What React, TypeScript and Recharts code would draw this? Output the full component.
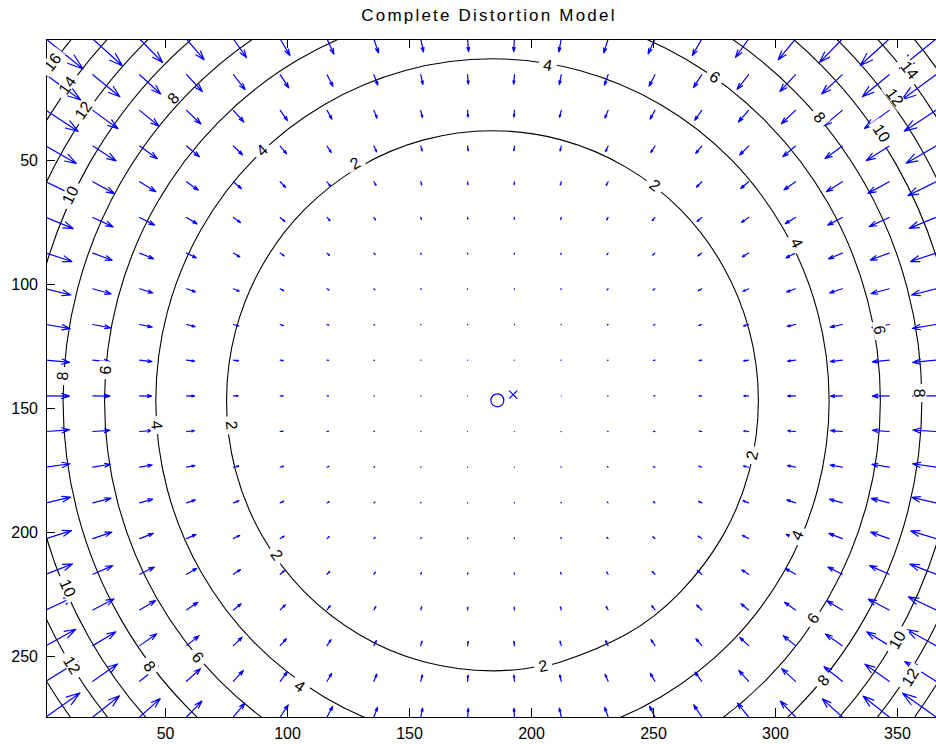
import React from 'react';
import { ComposedChart, Line, Scatter, XAxis, YAxis } from 'recharts';

const FONT = '"Liberation Sans", Arial, Helvetica, sans-serif';

// Axis extents (image pixel coordinates, y grows downward)
const xRange: [number, number] = [1, 365.8];
const yRange: [number, number] = [1, 274.6];
const xTicks = [50, 100, 150, 200, 250, 300, 350];
const yTicks = [50, 100, 150, 200, 250];

// Sampling grid of the displacement field
const gridX = [1, 20.2, 39.4, 58.6, 77.8, 97, 116.2, 135.4, 154.6, 173.8, 193, 212.2, 231.4, 250.6, 269.8, 289, 308.2, 327.4, 346.6, 365.8];
const gridY = [1, 15.4, 29.8, 44.2, 58.6, 73, 87.4, 101.8, 116.2, 130.6, 145, 159.4, 173.8, 188.2, 202.6, 217, 231.4, 245.8, 260.2, 274.6];

// Arrow components (scaled displacement) per grid row
const arrowU = [
  [15.2, 12.1, 9.4, 7.2, 5.4, 4.0, 2.8, 1.9, 1.1, 0.4, -0.3, -1.0, -1.8, -2.8, -3.9, -5.4, -7.1, -9.3, -11.9, -15.0],
  [14.2, 11.1, 8.6, 6.5, 4.8, 3.5, 2.4, 1.6, 0.9, 0.3, -0.3, -0.8, -1.5, -2.4, -3.4, -4.7, -6.4, -8.5, -11.0, -14.0],
  [13.2, 10.3, 7.9, 5.9, 4.3, 3.0, 2.0, 1.3, 0.7, 0.2, -0.2, -0.7, -1.3, -2.0, -2.9, -4.2, -5.8, -7.7, -10.1, -13.0],
  [12.4, 9.5, 7.2, 5.3, 3.8, 2.6, 1.7, 1.1, 0.6, 0.2, -0.2, -0.5, -1.0, -1.7, -2.5, -3.7, -5.2, -7.1, -9.4, -12.2],
  [11.7, 8.9, 6.6, 4.8, 3.3, 2.2, 1.4, 0.9, 0.4, 0.1, -0.1, -0.4, -0.8, -1.4, -2.2, -3.2, -4.7, -6.5, -8.7, -11.5],
  [11.1, 8.3, 6.1, 4.3, 2.9, 1.9, 1.2, 0.7, 0.3, 0.1, -0.1, -0.3, -0.6, -1.1, -1.9, -2.9, -4.2, -6.0, -8.2, -10.9],
  [10.6, 7.9, 5.7, 4.0, 2.6, 1.6, 1.0, 0.5, 0.2, 0.1, -0.1, -0.2, -0.5, -0.9, -1.6, -2.6, -3.9, -5.6, -7.7, -10.4],
  [10.2, 7.5, 5.4, 3.7, 2.4, 1.4, 0.8, 0.4, 0.2, 0.0, 0.0, -0.2, -0.4, -0.8, -1.4, -2.3, -3.6, -5.2, -7.4, -10.0],
  [9.9, 7.3, 5.1, 3.5, 2.2, 1.3, 0.7, 0.3, 0.1, 0.0, 0.0, -0.1, -0.3, -0.6, -1.2, -2.1, -3.4, -5.0, -7.1, -9.7],
  [9.7, 7.1, 5.0, 3.3, 2.1, 1.2, 0.6, 0.2, 0.1, 0.0, 0.0, -0.1, -0.2, -0.6, -1.1, -2.0, -3.2, -4.9, -6.9, -9.5],
  [9.6, 7.0, 4.9, 3.3, 2.0, 1.2, 0.6, 0.2, 0.1, 0.0, 0.0, 0.0, -0.2, -0.5, -1.1, -2.0, -3.2, -4.8, -6.9, -9.5],
  [9.7, 7.1, 5.0, 3.3, 2.1, 1.2, 0.6, 0.2, 0.1, 0.0, 0.0, -0.1, -0.2, -0.6, -1.1, -2.0, -3.2, -4.8, -6.9, -9.5],
  [9.8, 7.2, 5.1, 3.4, 2.2, 1.3, 0.7, 0.3, 0.1, 0.0, 0.0, -0.1, -0.3, -0.6, -1.2, -2.1, -3.3, -5.0, -7.1, -9.6],
  [10.1, 7.4, 5.3, 3.6, 2.3, 1.4, 0.8, 0.4, 0.1, 0.0, 0.0, -0.1, -0.3, -0.7, -1.3, -2.3, -3.5, -5.2, -7.3, -9.9],
  [10.4, 7.8, 5.6, 3.9, 2.6, 1.6, 0.9, 0.5, 0.2, 0.1, -0.1, -0.2, -0.5, -0.9, -1.5, -2.5, -3.8, -5.5, -7.6, -10.3],
  [10.9, 8.2, 6.0, 4.2, 2.9, 1.8, 1.1, 0.6, 0.3, 0.1, -0.1, -0.3, -0.6, -1.1, -1.8, -2.8, -4.1, -5.9, -8.0, -10.7],
  [11.5, 8.7, 6.5, 4.6, 3.2, 2.1, 1.3, 0.8, 0.4, 0.1, -0.1, -0.4, -0.8, -1.3, -2.1, -3.1, -4.5, -6.3, -8.6, -11.3],
  [12.2, 9.4, 7.0, 5.1, 3.6, 2.5, 1.6, 1.0, 0.5, 0.2, -0.2, -0.5, -1.0, -1.6, -2.4, -3.6, -5.0, -6.9, -9.2, -12.0],
  [13.0, 10.1, 7.6, 5.7, 4.1, 2.9, 1.9, 1.2, 0.7, 0.2, -0.2, -0.6, -1.2, -1.9, -2.8, -4.0, -5.6, -7.5, -9.9, -12.8],
  [13.9, 10.9, 8.4, 6.3, 4.7, 3.3, 2.3, 1.5, 0.8, 0.3, -0.2, -0.8, -1.4, -2.2, -3.3, -4.6, -6.2, -8.2, -10.7, -13.7],
];
const arrowV = [
  [12.1, 10.8, 9.5, 8.4, 7.5, 6.7, 6.1, 5.6, 5.2, 5.1, 5.1, 5.2, 5.6, 6.0, 6.7, 7.4, 8.4, 9.4, 10.7, 12.0],
  [10.2, 8.9, 7.8, 6.8, 6.0, 5.3, 4.7, 4.2, 3.9, 3.8, 3.8, 3.9, 4.2, 4.6, 5.2, 5.9, 6.8, 7.8, 8.9, 10.1],
  [8.5, 7.4, 6.4, 5.5, 4.7, 4.1, 3.5, 3.1, 2.9, 2.7, 2.7, 2.8, 3.1, 3.5, 4.0, 4.7, 5.4, 6.3, 7.3, 8.4],
  [7.0, 6.0, 5.1, 4.3, 3.6, 3.1, 2.6, 2.3, 2.0, 1.9, 1.9, 2.0, 2.2, 2.6, 3.0, 3.6, 4.3, 5.1, 5.9, 6.9],
  [5.6, 4.8, 4.0, 3.4, 2.8, 2.3, 1.9, 1.5, 1.3, 1.2, 1.2, 1.3, 1.5, 1.8, 2.2, 2.7, 3.3, 4.0, 4.7, 5.6],
  [4.5, 3.8, 3.1, 2.6, 2.1, 1.6, 1.3, 1.0, 0.8, 0.7, 0.7, 0.8, 1.0, 1.3, 1.6, 2.0, 2.5, 3.1, 3.7, 4.4],
  [3.4, 2.9, 2.3, 1.9, 1.5, 1.1, 0.9, 0.6, 0.5, 0.4, 0.4, 0.5, 0.6, 0.8, 1.1, 1.5, 1.9, 2.3, 2.8, 3.4],
  [2.5, 2.1, 1.7, 1.3, 1.0, 0.8, 0.5, 0.4, 0.2, 0.2, 0.2, 0.2, 0.4, 0.5, 0.7, 1.0, 1.3, 1.7, 2.0, 2.5],
  [1.7, 1.4, 1.1, 0.9, 0.6, 0.5, 0.3, 0.2, 0.1, 0.1, 0.1, 0.1, 0.2, 0.3, 0.4, 0.6, 0.8, 1.1, 1.3, 1.6],
  [0.9, 0.7, 0.6, 0.4, 0.3, 0.2, 0.1, 0.1, 0.0, 0.0, 0.0, 0.0, 0.1, 0.1, 0.2, 0.3, 0.4, 0.6, 0.7, 0.9],
  [0.1, 0.1, 0.1, 0.1, 0.0, 0.0, 0.0, 0.0, 0.0, 0.0, 0.0, 0.0, 0.0, 0.0, 0.0, 0.0, 0.1, 0.1, 0.1, 0.1],
  [-0.7, -0.5, -0.4, -0.3, -0.2, -0.2, -0.1, -0.1, 0.0, 0.0, 0.0, 0.0, -0.1, -0.1, -0.2, -0.2, -0.3, -0.4, -0.5, -0.6],
  [-1.4, -1.2, -0.9, -0.7, -0.5, -0.4, -0.3, -0.2, -0.1, 0.0, 0.0, -0.1, -0.2, -0.2, -0.4, -0.5, -0.7, -0.9, -1.2, -1.4],
  [-2.3, -1.9, -1.5, -1.2, -0.9, -0.7, -0.5, -0.3, -0.2, -0.1, -0.1, -0.2, -0.3, -0.5, -0.6, -0.9, -1.2, -1.5, -1.8, -2.2],
  [-3.2, -2.6, -2.1, -1.7, -1.3, -1.0, -0.8, -0.5, -0.4, -0.3, -0.3, -0.4, -0.5, -0.7, -1.0, -1.3, -1.7, -2.1, -2.6, -3.1],
  [-4.2, -3.5, -2.9, -2.4, -1.9, -1.5, -1.1, -0.9, -0.7, -0.6, -0.6, -0.7, -0.9, -1.1, -1.5, -1.8, -2.3, -2.9, -3.5, -4.1],
  [-5.3, -4.5, -3.8, -3.1, -2.5, -2.1, -1.7, -1.4, -1.2, -1.1, -1.1, -1.2, -1.4, -1.7, -2.0, -2.5, -3.1, -3.7, -4.4, -5.3],
  [-6.6, -5.6, -4.8, -4.0, -3.4, -2.8, -2.4, -2.0, -1.8, -1.7, -1.7, -1.8, -2.0, -2.4, -2.8, -3.3, -4.0, -4.7, -5.6, -6.5],
  [-8.0, -7.0, -6.0, -5.1, -4.4, -3.8, -3.2, -2.9, -2.6, -2.5, -2.5, -2.6, -2.8, -3.2, -3.7, -4.4, -5.1, -5.9, -6.9, -8.0],
  [-9.7, -8.5, -7.4, -6.4, -5.6, -4.9, -4.3, -3.9, -3.6, -3.5, -3.5, -3.6, -3.9, -4.3, -4.9, -5.6, -6.4, -7.3, -8.4, -9.6],
];

type Pt = [number, number];

// Iso-displacement contours (2 … 16 pixels)
const contour2: Pt[] = [
  [204.7, 253.9], [184, 256], [155.8, 252.3], [129.5, 241.4], [106.9, 224.1], [89.6, 201.5], [78.7, 175.2], [75, 147],
  [78.7, 118.8], [89.6, 92.5], [106.9, 69.9], [129.5, 52.6], [155.8, 41.7], [184, 38], [212.2, 41.7],
  [238.5, 52.6], [261.1, 69.9], [278.4, 92.5], [289.3, 118.8], [293, 147], [289.3, 175.2], [278.4, 201.5],
  [261.1, 224.1], [238.5, 241.4], [212.2, 252.3], [204.7, 253.9],
];
const contour4: Pt[] = [
  [184, 285], [148.3, 280.3], [115, 266.5], [86.4, 244.6], [64.5, 216], [50.7, 182.7], [46, 147],
  [50.7, 111.3], [64.5, 78], [86.4, 49.4], [115, 27.5], [148.3, 13.7], [184, 9], [219.7, 13.7],
  [253, 27.5], [281.6, 49.4], [303.5, 78], [317.3, 111.3], [322, 147], [317.3, 182.7], [303.5, 216],
  [281.6, 244.6], [253, 266.5], [219.7, 280.3], [184, 285],
];
const contour6: Pt[] = [
  [184, 306], [142.9, 300.6], [104.5, 284.7], [71.6, 259.4], [46.3, 226.5], [30.4, 188.1], [25, 147],
  [30.4, 105.9], [46.3, 67.5], [71.6, 34.6], [104.5, 9.3], [142.9, -6.6], [184, -12], [225.1, -6.6],
  [263.5, 9.3], [296.4, 34.6], [321.7, 67.5], [337.6, 105.9], [343, 147], [337.6, 188.1], [321.7, 226.5],
  [296.4, 259.4], [263.5, 284.7], [225.1, 300.6], [184, 306],
];
const contour8: Pt[] = [
  [184, 323], [138.5, 317], [96, 299.4], [59.6, 271.4], [31.6, 235], [14, 192.5], [8, 147],
  [14, 101.5], [31.6, 59], [59.6, 22.6], [96, -5.4], [138.5, -23], [184, -29], [229.5, -23],
  [272, -5.4], [308.4, 22.6], [336.4, 59], [354, 101.5], [360, 147], [354, 192.5], [336.4, 235],
  [308.4, 271.4], [272, 299.4], [229.5, 317], [184, 323],
];
const contour10: Pt[] = [
  [184, 338], [134.6, 331.5], [88.5, 312.4], [48.9, 282.1], [18.6, 242.5], [-0.5, 196.4], [-7, 147],
  [-0.5, 97.6], [18.6, 51.5], [48.9, 11.9], [88.5, -18.4], [134.6, -37.5], [184, -44], [233.4, -37.5],
  [279.5, -18.4], [319.1, 11.9], [349.4, 51.5], [368.5, 97.6], [375, 147], [368.5, 196.4], [349.4, 242.5],
  [319.1, 282.1], [279.5, 312.4], [233.4, 331.5], [184, 338],
];
const contour12: Pt[] = [
  [184, 350], [131.5, 343.1], [82.5, 322.8], [40.5, 290.5], [8.2, 248.5], [-12.1, 199.5], [-19, 147],
  [-12.1, 94.5], [8.2, 45.5], [40.5, 3.5], [82.5, -28.8], [131.5, -49.1], [184, -56], [236.5, -49.1],
  [285.5, -28.8], [327.5, 3.5], [359.8, 45.5], [380.1, 94.5], [387, 147], [380.1, 199.5], [359.8, 248.5],
  [327.5, 290.5], [285.5, 322.8], [236.5, 343.1], [184, 350],
];
const contour14: Pt[] = [
  [184, 362], [128.4, 354.7], [76.5, 333.2], [32, 299], [-2.2, 254.5], [-23.7, 202.6], [-31, 147],
  [-23.7, 91.4], [-2.2, 39.5], [32, -5], [76.5, -39.2], [128.4, -60.7], [184, -68], [239.6, -60.7],
  [291.5, -39.2], [336, -5], [370.2, 39.5], [391.7, 91.4], [399, 147], [391.7, 202.6], [370.2, 254.5],
  [336, 299], [291.5, 333.2], [239.6, 354.7], [184, 362],
];
const contour16: Pt[] = [
  [184, 373], [125.5, 365.3], [71, 342.7], [24.2, 306.8], [-11.7, 260], [-34.3, 205.5], [-42, 147],
  [-34.3, 88.5], [-11.7, 34], [24.2, -12.8], [71, -48.7], [125.5, -71.3], [184, -79], [242.5, -71.3],
  [297, -48.7], [344.2, -12.8], [379.7, 34], [402.3, 88.5], [410, 147], [402.3, 205.5], [379.7, 260],
  [344.2, 306.8], [297, 342.7], [242.5, 365.3], [184, 373],
];

// Inline contour labels: text, position, rotation along the contour
const contourLabels = [
  { text: '2', x: 127.6, y: 51.0, angle: -30 },
  { text: '2', x: 250.6, y: 59.9, angle: 37 },
  { text: '2', x: 77.2, y: 156.8, angle: 85 },
  { text: '2', x: 95.7, y: 209.2, angle: 55 },
  { text: '2', x: 290.3, y: 168.9, angle: -78 },
  { text: '2', x: 204.7, y: 253.9, angle: -11 },
  { text: '4', x: 206.7, y: 11.5, angle: 9 },
  { text: '4', x: 89.5, y: 45.8, angle: -43 },
  { text: '4', x: 46.5, y: 156.8, angle: 86 },
  { text: '4', x: 308.8, y: 83.3, angle: 63 },
  { text: '4', x: 308.8, y: 201.2, angle: -66 },
  { text: '4', x: 105.1, y: 262.1, angle: 34 },
  { text: '6', x: 275.2, y: 16.3, angle: 35 },
  { text: '6', x: 25.2, y: 134.6, angle: -85 },
  { text: '6', x: 63.3, y: 250.4, angle: 49 },
  { text: '6', x: 342.8, y: 118.4, angle: 80 },
  { text: '6', x: 315.4, y: 234.7, angle: -56 },
  { text: '8', x: 53.1, y: 24.8, angle: -47 },
  { text: '8', x: 7.6, y: 137, angle: -87 },
  { text: '8', x: 43.6, y: 254, angle: 53 },
  { text: '8', x: 318.2, y: 32.5, angle: 50 },
  { text: '8', x: 359.2, y: 143.9, angle: 89 },
  { text: '8', x: 319.5, y: 259.7, angle: -50 },
  { text: '10', x: 10.8, y: 63.9, angle: -64 },
  { text: '10', x: 343.6, y: 38.9, angle: 56 },
  { text: '10', x: 10, y: 222.5, angle: 66 },
  { text: '10', x: 349.8, y: 243.5, angle: -60 },
  { text: '12', x: 16.2, y: 29.7, angle: -55 },
  { text: '12', x: 349, y: 24.4, angle: 53 },
  { text: '12', x: 11.7, y: 253.6, angle: 58 },
  { text: '12', x: 355.1, y: 258.5, angle: -57 },
  { text: '14', x: 9.6, y: 19.6, angle: -54 },
  { text: '14', x: 355.1, y: 13.5, angle: 52 },
  { text: '16', x: 3.5, y: 10.3, angle: -53 },
];

const principalPoint = [{ x: 186, y: 146.8 }];
const imageCenter = [{ x: 192.5, y: 144.5 }];

const contours = [contour2, contour4, contour6, contour8, contour10, contour12, contour14, contour16].map((pts) =>
  pts.map(([x, y]) => ({ x, y }))
);

// Quiver arrows: shaft plus a two-stroke head, separated by gaps
const HEAD_ALPHA = 0.33;
const HEAD_BETA = 0.33;
const quiverPath: { x: number; y: number | null }[] = [];
gridY.forEach((gy, j) => {
  gridX.forEach((gx, i) => {
    const u = arrowU[j][i];
    const v = arrowV[j][i];
    const tx = gx + u;
    const ty = gy + v;
    quiverPath.push(
      { x: gx, y: gy },
      { x: tx, y: ty },
      { x: tx - HEAD_ALPHA * (u + HEAD_BETA * v), y: ty - HEAD_ALPHA * (v - HEAD_BETA * u) },
      { x: tx, y: ty },
      { x: tx - HEAD_ALPHA * (u - HEAD_BETA * v), y: ty - HEAD_ALPHA * (v + HEAD_BETA * u) },
      { x: tx, y: null }
    );
  });
});

const BLUE = '#0000ff';

const BottomTick = (props: any) => {
  const { x, y, payload } = props;
  return (
    <g>
      <line x1={x} y1={y} x2={x} y2={y - 9} stroke="#000" shapeRendering="crispEdges" />
      <text x={x} y={y + 22} textAnchor="middle" fontSize={16} fontFamily={FONT} fill="#000">
        {payload.value}
      </text>
    </g>
  );
};

const TopTick = (props: any) => {
  const { x, y } = props;
  return <line x1={x} y1={y} x2={x} y2={y + 9} stroke="#000" shapeRendering="crispEdges" />;
};

const LeftTick = (props: any) => {
  const { x, y, payload } = props;
  return (
    <g>
      <line x1={x} y1={y} x2={x + 9} y2={y} stroke="#000" shapeRendering="crispEdges" />
      <text x={x - 8} y={y + 6} textAnchor="end" fontSize={16} fontFamily={FONT} fill="#000">
        {payload.value}
      </text>
    </g>
  );
};

const ContourLabel = (props: any) => {
  const { cx, cy, payload } = props;
  const w = payload.text.length * 10 + 8;
  return (
    <g transform={`translate(${cx},${cy}) rotate(${payload.angle})`}>
      <rect x={-w / 2} y={-6.5} width={w} height={13} fill="#fff" />
      <text x={0} y={5.8} textAnchor="middle" fontSize={16} fontFamily={FONT} fill="#000">
        {payload.text}
      </text>
    </g>
  );
};

const CircleMarker = (props: any) => {
  const { cx, cy } = props;
  return <circle cx={cx} cy={cy} r={6.5} fill="none" stroke={BLUE} strokeWidth={1.2} />;
};

const CrossMarker = (props: any) => {
  const { cx, cy } = props;
  const s = 4;
  return (
    <g stroke={BLUE} strokeWidth={1.2}>
      <line x1={cx - s} y1={cy - s} x2={cx + s} y2={cy + s} />
      <line x1={cx - s} y1={cy + s} x2={cx + s} y2={cy - s} />
    </g>
  );
};

export default function App() {
  return (
    <div style={{ position: 'absolute', left: 0, top: 0, width: 936, height: 744, fontFamily: FONT, background: '#fff' }}>
      <div
        style={{
          position: 'absolute',
          left: 44,
          top: 7,
          width: 890,
          textAlign: 'center',
          fontSize: 17,
          lineHeight: '17px',
          letterSpacing: 2.2,
          color: '#000',
          whiteSpace: 'nowrap',
        }}
      >
        Complete Distortion Model
      </div>
      <ComposedChart width={936} height={744} margin={{ top: 38, right: 0, bottom: 0, left: 0 }}>
        <XAxis
          xAxisId={0}
          dataKey="x"
          type="number"
          domain={xRange}
          allowDataOverflow
          ticks={xTicks}
          interval={0}
          height={27}
          tickSize={0}
          tickMargin={0}
          tickLine={false}
          tick={BottomTick}
          axisLine={{ stroke: '#000', shapeRendering: 'crispEdges' }}
        />
        <XAxis
          xAxisId="top"
          orientation="top"
          dataKey="x"
          type="number"
          domain={xRange}
          allowDataOverflow
          ticks={xTicks}
          interval={0}
          height={1}
          tickSize={0}
          tickMargin={0}
          tickLine={false}
          tick={TopTick}
          axisLine={{ stroke: '#000', shapeRendering: 'crispEdges' }}
        />
        <YAxis
          dataKey="y"
          type="number"
          domain={yRange}
          allowDataOverflow
          reversed
          ticks={yTicks}
          interval={0}
          width={46}
          tickSize={0}
          tickMargin={0}
          tickLine={false}
          tick={LeftTick}
          axisLine={{ stroke: '#000', shapeRendering: 'crispEdges' }}
        />
        {contours.map((pts, k) => (
          <Line
            key={`c${k}`}
            data={pts}
            dataKey="y"
            type="natural"
            stroke="#000"
            strokeWidth={1.1}
            dot={false}
            activeDot={false}
            isAnimationActive={false}
          />
        ))}
        <Scatter data={contourLabels} dataKey="y" shape={ContourLabel} isAnimationActive={false} />
        <Line
          data={quiverPath}
          dataKey="y"
          type="linear"
          stroke={BLUE}
          strokeWidth={1.2}
          strokeLinecap="round"
          strokeLinejoin="round"
          dot={false}
          activeDot={false}
          connectNulls={false}
          isAnimationActive={false}
        />
        <Scatter data={principalPoint} dataKey="y" shape={CircleMarker} isAnimationActive={false} />
        <Scatter data={imageCenter} dataKey="y" shape={CrossMarker} isAnimationActive={false} />
      </ComposedChart>
    </div>
  );
}
